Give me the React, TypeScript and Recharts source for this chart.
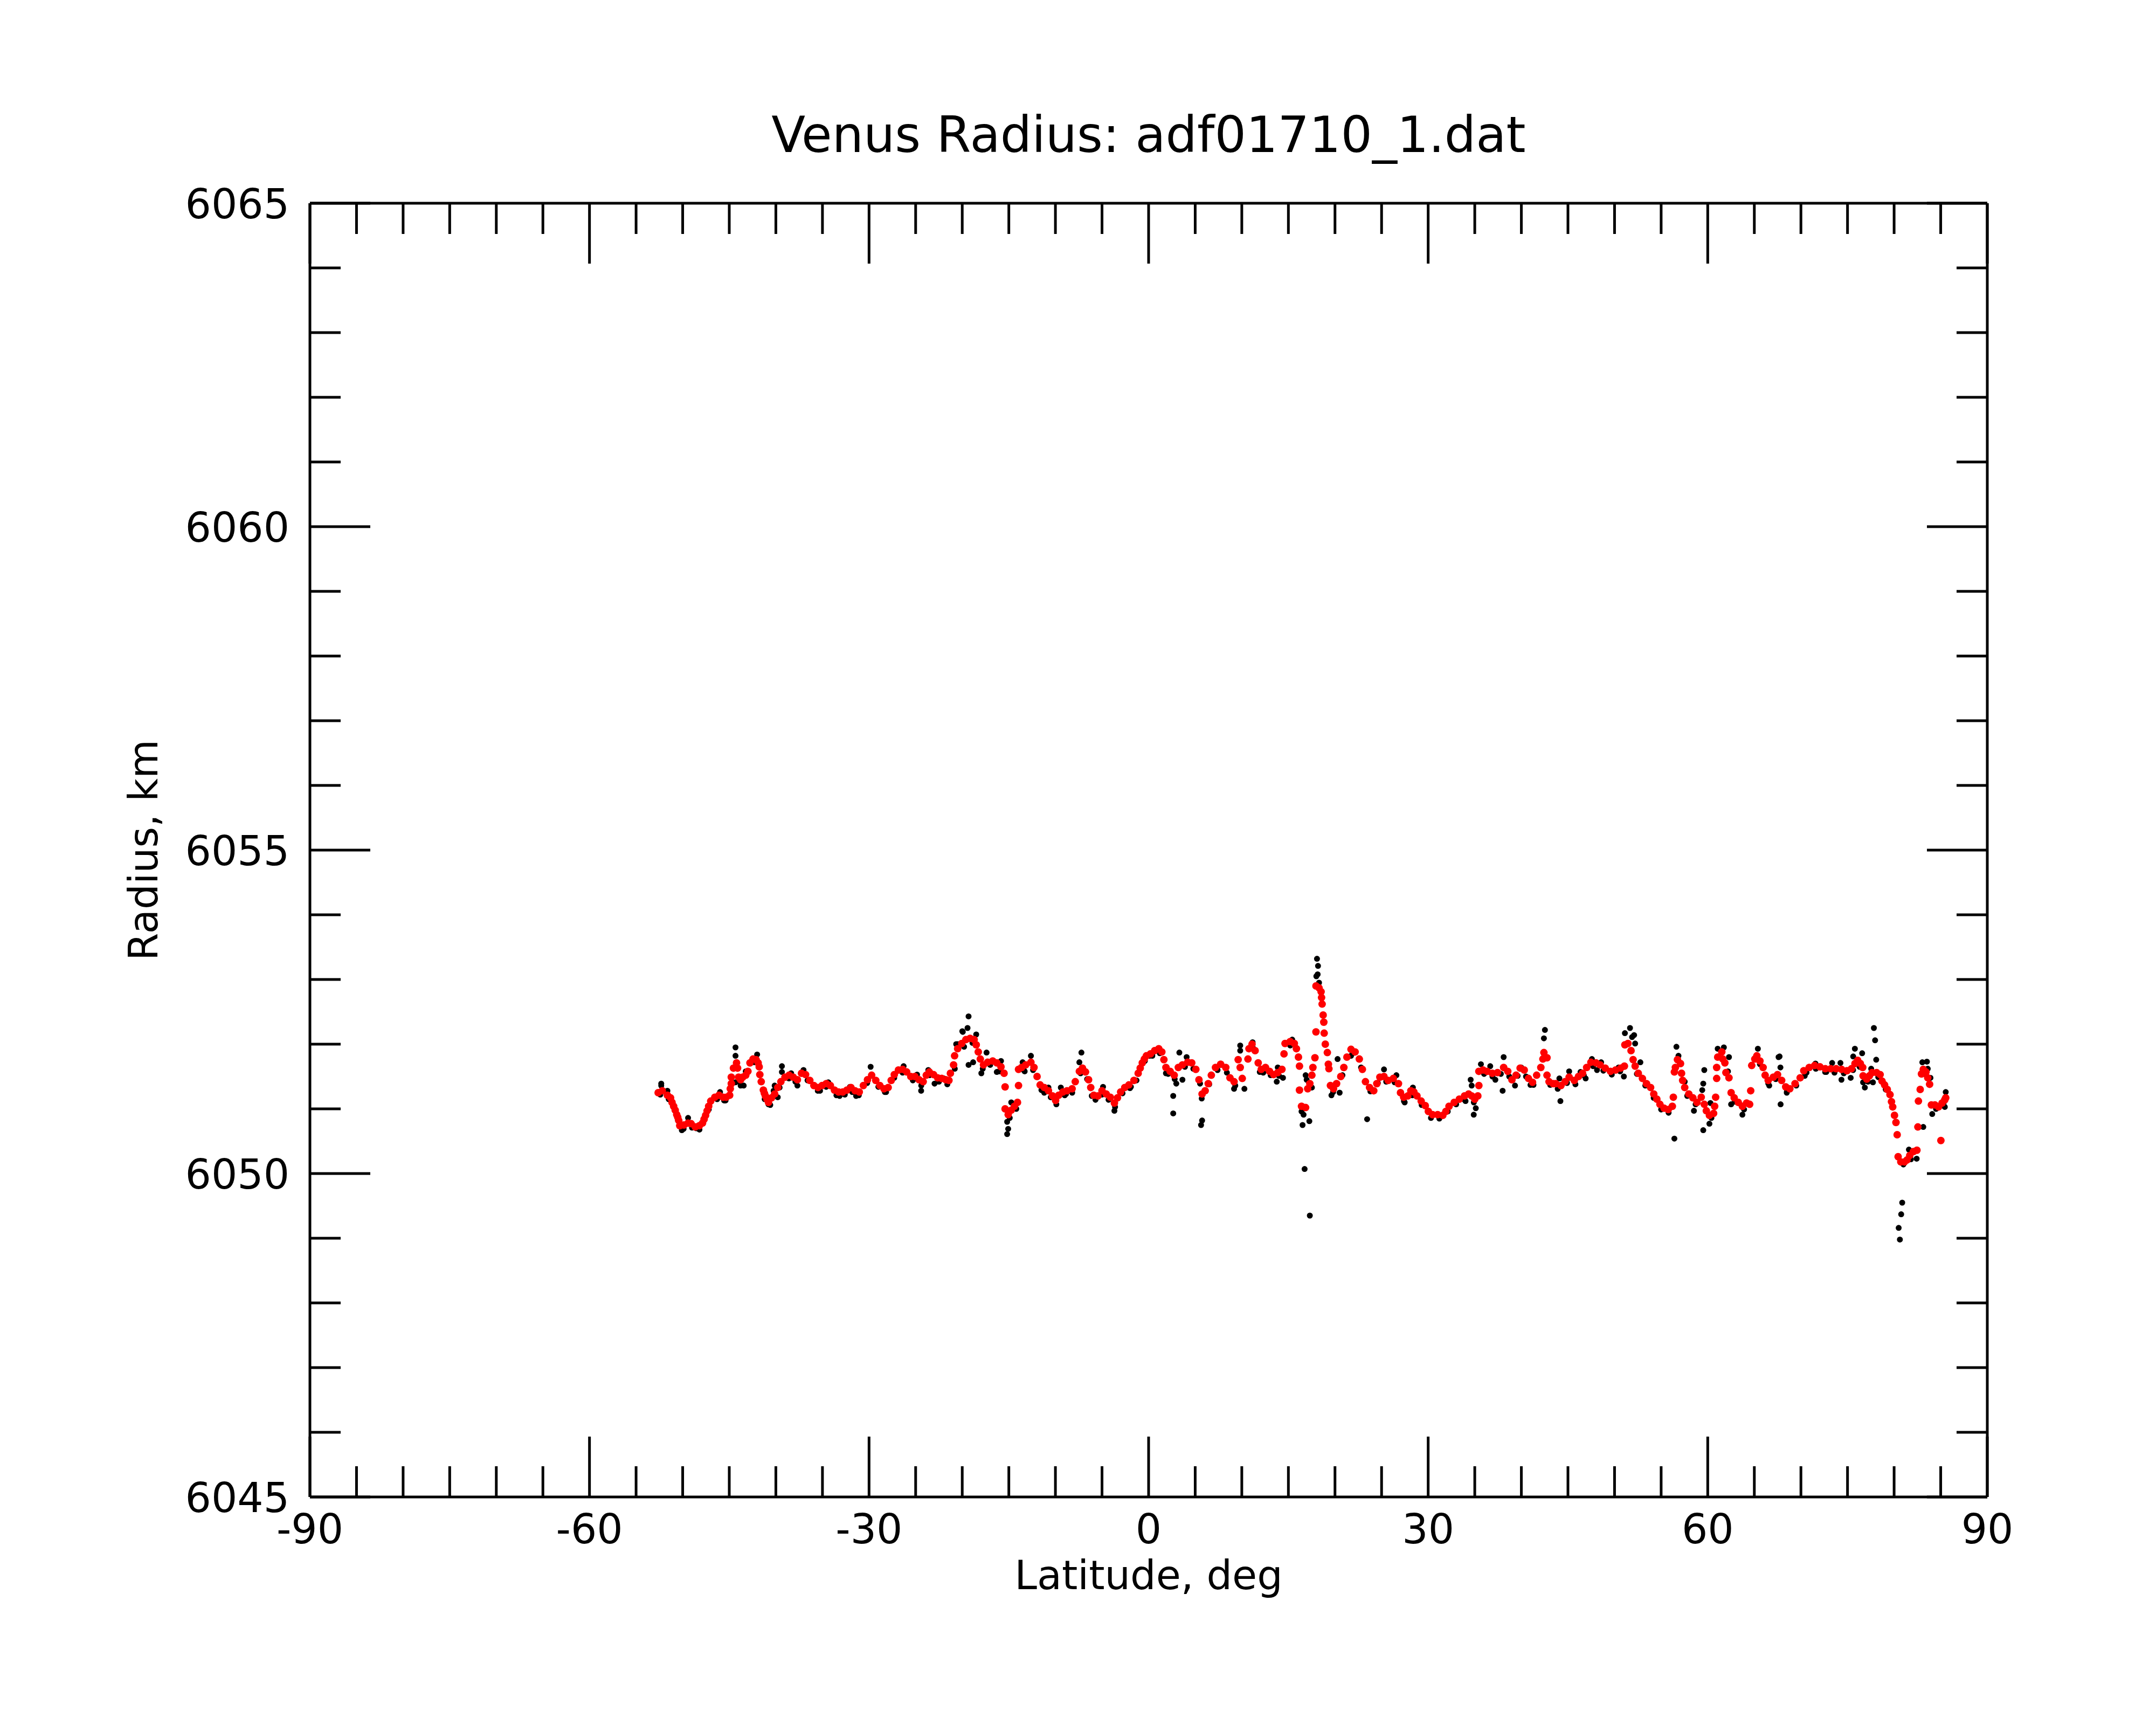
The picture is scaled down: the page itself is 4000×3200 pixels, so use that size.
import { ScatterChart, Scatter, XAxis, YAxis } from "recharts";

const FONT = "DejaVu Sans";
const MAJOR = 112;
const MINOR = 57;

const xTicks = [
  -90, -85, -80, -75, -70, -65, -60, -55, -50, -45, -40, -35, -30, -25, -20, -15, -10, -5,
  0, 5, 10, 15, 20, 25, 30, 35, 40, 45, 50, 55, 60, 65, 70, 75, 80, 85, 90,
];
const yTicks = [
  6045, 6046, 6047, 6048, 6049, 6050, 6051, 6052, 6053, 6054, 6055,
  6056, 6057, 6058, 6059, 6060, 6061, 6062, 6063, 6064, 6065,
];

// smoothed radius (red), [latitude, radius]
const redSouth: [number, number][] = [
  [-52.63, 6051.25], [-52.19, 6051.28], [-51.64, 6051.21], [-51.3, 6051.17], [-51.14, 6051.1],
  [-50.97, 6051.04], [-50.8, 6050.98], [-50.64, 6050.91], [-50.53, 6050.87], [-50.42, 6050.82],
  [-50.31, 6050.74], [-49.87, 6050.75], [-49.42, 6050.78], [-49.09, 6050.77], [-48.65, 6050.72],
  [-48.21, 6050.74], [-47.87, 6050.78], [-47.7, 6050.84], [-47.54, 6050.9], [-47.38, 6050.97],
  [-47.21, 6051.04], [-46.99, 6051.12], [-46.55, 6051.18], [-46.1, 6051.21], [-45.66, 6051.18],
  [-45.33, 6051.18], [-44.96, 6051.21], [-44.89, 6051.31], [-44.78, 6051.39], [-44.78, 6051.49],
  [-44.55, 6051.63], [-44.22, 6051.71], [-44.11, 6051.63], [-44.0, 6051.49], [-43.78, 6051.45],
  [-43.56, 6051.49], [-43.23, 6051.52], [-43.0, 6051.58], [-42.78, 6051.71], [-42.45, 6051.77],
  [-42.12, 6051.76], [-41.9, 6051.71], [-41.79, 6051.65], [-41.72, 6051.53], [-41.57, 6051.42],
  [-41.34, 6051.29], [-41.23, 6051.24], [-41.12, 6051.2], [-40.95, 6051.15], [-40.79, 6051.1],
  [-40.46, 6051.17], [-40.13, 6051.23], [-39.8, 6051.33], [-39.46, 6051.42], [-39.02, 6051.49],
  [-38.58, 6051.52], [-38.14, 6051.49], [-37.69, 6051.45], [-37.25, 6051.55], [-36.81, 6051.53],
  [-36.36, 6051.44], [-35.92, 6051.36], [-35.48, 6051.33], [-35.04, 6051.36], [-34.59, 6051.39],
  [-34.15, 6051.36], [-33.71, 6051.29], [-33.27, 6051.26], [-32.82, 6051.26], [-32.38, 6051.29],
  [-31.94, 6051.33], [-31.5, 6051.28], [-31.05, 6051.26], [-30.61, 6051.36], [-30.17, 6051.45],
  [-29.72, 6051.52], [-29.28, 6051.44], [-28.84, 6051.36], [-28.4, 6051.31], [-27.95, 6051.33],
  [-27.62, 6051.44], [-27.29, 6051.53], [-26.85, 6051.6], [-26.4, 6051.61], [-25.96, 6051.57],
  [-25.52, 6051.5], [-25.08, 6051.5], [-24.63, 6051.45], [-24.19, 6051.42], [-23.86, 6051.52],
  [-23.53, 6051.57], [-23.08, 6051.53], [-22.64, 6051.48], [-22.2, 6051.47], [-21.76, 6051.45],
  [-21.43, 6051.44],
];

const redMid: [number, number][] = [
  [-21.27, 6051.55], [-20.93, 6051.68], [-20.82, 6051.82], [-20.49, 6051.93], [-20.05, 6052.01],
  [-19.61, 6052.07], [-19.16, 6052.09], [-18.72, 6052.07], [-18.5, 6051.99], [-18.28, 6051.88],
  [-18.06, 6051.77], [-17.72, 6051.68], [-17.28, 6051.72], [-16.73, 6051.74], [-16.29, 6051.71],
  [-15.84, 6051.65], [-15.51, 6051.55], [-15.4, 6051.34], [-15.4, 6051.0], [-15.07, 6050.91],
  [-14.74, 6050.98], [-14.4, 6051.04], [-14.07, 6051.1], [-13.96, 6051.36], [-13.96, 6051.61],
  [-13.63, 6051.64], [-13.19, 6051.68], [-12.63, 6051.72], [-12.3, 6051.64], [-11.97, 6051.5],
  [-11.64, 6051.37], [-11.2, 6051.33], [-10.75, 6051.28], [-10.31, 6051.2], [-9.98, 6051.13],
  [-9.65, 6051.21], [-9.2, 6051.26], [-8.76, 6051.28], [-8.21, 6051.31], [-7.87, 6051.42],
  [-7.43, 6051.58], [-7.1, 6051.63], [-6.77, 6051.57], [-6.44, 6051.45], [-6.21, 6051.33],
  [-5.88, 6051.21], [-5.44, 6051.2], [-5.0, 6051.28], [-4.55, 6051.23], [-4.11, 6051.18],
  [-3.67, 6051.09], [-3.34, 6051.17], [-3.0, 6051.26], [-2.56, 6051.33], [-2.12, 6051.37],
  [-1.57, 6051.44], [-1.12, 6051.55], [-0.9, 6051.63], [-0.68, 6051.71], [-0.46, 6051.77],
  [-0.24, 6051.82], [0.2, 6051.85], [0.65, 6051.9], [1.09, 6051.93], [1.42, 6051.88],
  [1.64, 6051.76], [1.86, 6051.64], [2.31, 6051.58], [2.75, 6051.52], [3.19, 6051.64],
  [3.63, 6051.68], [4.19, 6051.72], [4.63, 6051.71], [5.07, 6051.61], [5.4, 6051.45],
  [5.74, 6051.23], [6.07, 6051.28], [6.4, 6051.39], [6.73, 6051.52], [7.18, 6051.64],
  [7.73, 6051.69], [8.28, 6051.64], [8.73, 6051.48], [9.17, 6051.42], [9.61, 6051.76],
  [9.83, 6051.64], [10.05, 6051.47],
];

const redNorth: [number, number][] = [
  [10.66, 6051.77], [10.77, 6051.93], [11.1, 6052.0], [11.43, 6051.9], [11.76, 6051.71],
  [12.09, 6051.61], [12.54, 6051.64], [12.98, 6051.58], [13.42, 6051.53], [13.86, 6051.56],
  [14.31, 6051.61], [14.53, 6051.85], [14.64, 6052.01], [15.19, 6052.04], [15.64, 6052.01],
  [15.86, 6051.93], [16.08, 6051.8], [16.19, 6051.66], [16.19, 6051.29], [16.41, 6051.04],
  [16.85, 6051.02], [17.07, 6051.31], [17.3, 6051.39], [17.52, 6051.52], [17.63, 6051.64],
  [17.85, 6051.79], [17.96, 6052.19], [17.96, 6052.9], [18.29, 6052.87], [18.51, 6052.81],
  [18.56, 6052.72], [18.62, 6052.62], [18.73, 6052.45], [18.8, 6052.34], [18.84, 6052.17],
  [18.96, 6052.0], [19.18, 6051.87], [19.29, 6051.69], [19.35, 6051.62], [19.51, 6051.36],
  [19.84, 6051.31], [20.17, 6051.39], [20.62, 6051.5], [20.95, 6051.64], [21.28, 6051.8],
  [21.72, 6051.92], [22.16, 6051.88], [22.61, 6051.77], [22.94, 6051.61], [23.27, 6051.42],
  [23.71, 6051.33], [24.16, 6051.28], [24.49, 6051.39], [24.82, 6051.49], [25.26, 6051.5],
  [25.71, 6051.44], [26.26, 6051.47], [26.81, 6051.39], [27.03, 6051.25], [27.37, 6051.18],
  [27.81, 6051.2], [28.14, 6051.28], [28.47, 6051.26], [28.8, 6051.2], [29.25, 6051.12],
  [29.69, 6051.05], [30.02, 6050.96], [30.47, 6050.91], [31.02, 6050.91], [31.57, 6050.9],
  [31.9, 6050.96], [32.24, 6051.04], [32.79, 6051.1], [33.34, 6051.15], [33.9, 6051.2],
  [34.34, 6051.23], [34.67, 6051.2], [35.0, 6051.15], [35.33, 6051.2], [35.44, 6051.36],
  [35.44, 6051.58], [35.89, 6051.6], [36.33, 6051.58], [36.88, 6051.55], [37.44, 6051.56],
  [38.1, 6051.64], [38.54, 6051.58], [38.99, 6051.45], [39.43, 6051.52], [39.87, 6051.63],
  [40.31, 6051.6], [40.76, 6051.47], [41.2, 6051.41], [41.64, 6051.52], [42.09, 6051.64],
  [42.31, 6051.77], [42.42, 6051.87], [42.75, 6051.79], [42.75, 6051.52], [42.97, 6051.42],
  [43.41, 6051.39],
];

const redFar: [number, number][] = [
  [43.69, 6051.39], [44.25, 6051.36], [44.69, 6051.42], [45.13, 6051.49], [45.68, 6051.44],
  [46.13, 6051.5], [46.57, 6051.55], [47.01, 6051.64], [47.46, 6051.72], [48.01, 6051.71],
  [48.45, 6051.68], [49.0, 6051.63], [49.56, 6051.58], [50.11, 6051.6], [50.66, 6051.63],
  [51.06, 6051.66], [51.11, 6051.99], [51.44, 6052.01], [51.77, 6051.9], [51.99, 6051.76],
  [52.21, 6051.66], [52.55, 6051.55], [52.99, 6051.47], [53.43, 6051.39], [53.87, 6051.33],
  [54.21, 6051.23], [54.54, 6051.15], [54.87, 6051.07], [55.31, 6051.01], [55.76, 6050.99],
  [56.2, 6051.04], [56.31, 6051.18], [56.42, 6051.57], [56.53, 6051.64], [56.75, 6051.76],
  [57.08, 6051.7], [57.19, 6051.55], [57.31, 6051.44], [57.53, 6051.33], [57.97, 6051.23],
  [58.41, 6051.17], [58.85, 6051.1], [59.3, 6051.18], [59.63, 6051.07], [59.85, 6050.97],
  [60.18, 6050.9], [60.63, 6050.93], [60.74, 6051.04], [60.85, 6051.18], [60.96, 6051.47],
  [60.96, 6051.64], [61.07, 6051.8], [61.51, 6051.88], [61.62, 6051.77], [61.84, 6051.71],
  [61.95, 6051.56], [62.28, 6051.48], [62.51, 6051.25], [62.84, 6051.17], [63.28, 6051.1],
  [63.72, 6051.04], [64.17, 6051.09], [64.5, 6051.07], [64.61, 6051.28], [64.72, 6051.67],
  [65.05, 6051.77], [65.27, 6051.82], [65.6, 6051.74], [65.94, 6051.64], [66.16, 6051.52],
  [66.49, 6051.44], [67.04, 6051.49], [67.49, 6051.53], [67.93, 6051.44], [68.37, 6051.34],
  [68.81, 6051.31], [69.37, 6051.39], [69.92, 6051.48], [70.31, 6051.59], [70.89, 6051.64],
  [71.47, 6051.67], [72.04, 6051.65], [72.62, 6051.62], [73.2, 6051.62], [73.78, 6051.62],
  [74.36, 6051.61], [74.94, 6051.59], [75.42, 6051.62], [75.8, 6051.7], [76.09, 6051.75],
  [76.38, 6051.7], [76.63, 6051.64], [76.67, 6051.51], [77.06, 6051.46], [77.35, 6051.51],
  [77.64, 6051.56], [78.12, 6051.56], [78.5, 6051.53], [78.7, 6051.43], [78.98, 6051.37],
  [79.27, 6051.3], [79.56, 6051.22], [79.72, 6051.11], [79.85, 6051.03], [80.04, 6050.9],
  [80.2, 6050.79], [80.33, 6050.6], [80.43, 6050.26], [80.72, 6050.18], [81.11, 6050.18],
  [81.39, 6050.21], [81.68, 6050.28], [82.07, 6050.34], [82.45, 6050.36], [82.55, 6050.72],
  [82.61, 6051.12], [82.8, 6051.3], [82.94, 6051.54], [83.13, 6051.61], [83.42, 6051.57],
  [83.61, 6051.48], [83.81, 6051.38], [84.0, 6051.06], [84.38, 6051.06], [84.77, 6051.03],
  [85.02, 6050.51], [85.15, 6051.09], [85.44, 6051.14], [85.54, 6051.17],
];

// raw radius (black), scattered points that show around the red track
const rawSouth: [number, number][] = [
  [-52.3, 6051.39], [-52.3, 6051.36], [-51.64, 6051.28], [-50.09, 6050.67], [-49.42, 6050.86],
  [-48.54, 6050.7], [-45.99, 6051.26], [-45.55, 6051.13], [-44.33, 6051.95], [-44.33, 6051.82],
  [-44.33, 6051.41], [-43.78, 6051.36], [-43.45, 6051.36], [-43.23, 6051.58], [-42.01, 6051.84],
  [-40.79, 6051.07], [-40.13, 6051.36], [-40.24, 6051.28], [-39.8, 6051.18], [-39.35, 6051.66],
  [-39.35, 6051.57], [-38.36, 6051.55], [-37.69, 6051.36], [-37.03, 6051.6], [-35.26, 6051.28],
  [-34.37, 6051.41], [-33.16, 6051.2], [-32.05, 6051.34], [-31.39, 6051.2], [-29.83, 6051.65],
  [-28.17, 6051.26], [-26.29, 6051.66], [-24.85, 6051.53], [-24.41, 6051.28], [-23.64, 6051.6],
  [-22.97, 6051.39], [-21.98, 6051.47], [-20.65, 6052.0], [-19.99, 6052.2], [-19.32, 6052.43],
  [-19.43, 6052.25], [-19.32, 6051.68], [-19.94, 6052.19], [-18.5, 6052.15], [-20.49, 6052.0],
  [-18.83, 6051.72], [-17.95, 6051.55], [-17.39, 6051.87], [-16.29, 6051.57], [-15.84, 6051.74],
  [-15.18, 6050.8], [-15.07, 6050.69], [-15.18, 6050.61], [-14.74, 6051.1], [-13.52, 6051.72],
  [-13.3, 6051.58], [-12.63, 6051.82], [-11.2, 6051.25], [-10.75, 6051.33], [-9.42, 6051.33],
  [-8.87, 6051.23], [-7.21, 6051.87], [-7.43, 6051.72], [-6.1, 6051.2], [-4.89, 6051.34],
  [-3.67, 6050.97], [-1.9, 6051.34], [0.09, 6051.82], [1.86, 6051.55], [2.64, 6051.2],
  [2.64, 6050.93], [2.97, 6051.39], [3.3, 6051.87], [3.63, 6051.45], [4.08, 6051.8],
  [5.52, 6051.39], [5.74, 6050.82], [5.63, 6050.75], [9.17, 6051.31], [9.83, 6051.98],
  [9.83, 6051.9], [10.28, 6051.31], [11.16, 6052.03], [11.93, 6051.57],
];

const rawNorth: [number, number][] = [
  [13.86, 6051.64], [14.42, 6051.48], [13.75, 6051.42], [15.41, 6052.07], [18.07, 6053.32],
  [18.18, 6053.21], [18.14, 6053.08], [18.0, 6053.05], [18.29, 6052.95], [16.85, 6051.52],
  [16.96, 6051.45], [17.52, 6051.33], [16.41, 6050.96], [16.63, 6050.91], [16.52, 6050.75],
  [17.25, 6050.81], [16.74, 6050.07], [17.3, 6049.35], [19.62, 6051.21], [20.5, 6051.25],
  [20.28, 6051.77], [21.72, 6051.82], [23.45, 6050.84], [25.26, 6051.61], [26.59, 6051.52],
  [27.48, 6051.1], [28.36, 6051.33], [34.01, 6051.12], [34.56, 6051.45], [34.67, 6051.36],
  [35.11, 6051.01], [34.89, 6050.91], [35.66, 6051.69], [36.66, 6051.66], [37.21, 6051.45],
  [38.1, 6051.8], [37.99, 6051.28], [39.32, 6051.36], [39.98, 6051.64], [40.98, 6051.37],
  [42.53, 6052.22], [42.42, 6052.09], [44.19, 6051.12], [44.08, 6051.47], [45.13, 6051.58],
  [46.35, 6051.57], [46.9, 6051.47], [47.57, 6051.77], [48.12, 6051.6], [48.56, 6051.72],
  [50.44, 6051.64], [51.0, 6051.5], [51.11, 6052.17], [51.66, 6052.25], [51.88, 6052.11],
  [52.1, 6052.14], [52.21, 6052.01], [52.77, 6051.72], [56.42, 6050.54], [56.64, 6051.96],
  [56.86, 6051.82], [57.53, 6051.42], [58.52, 6050.97], [59.52, 6050.67], [60.18, 6050.77],
  [59.63, 6051.6], [59.52, 6051.39], [59.41, 6051.29], [60.29, 6051.09], [61.07, 6051.93],
  [61.73, 6051.95], [62.28, 6051.8], [62.17, 6051.58], [62.51, 6051.07], [63.72, 6050.91],
  [65.38, 6051.93], [67.6, 6051.8], [67.82, 6051.07], [66.6, 6051.36], [68.48, 6051.25],
  [73.35, 6051.71], [74.24, 6051.71], [74.35, 6051.45], [75.34, 6051.48], [75.79, 6051.93],
  [67.71, 6051.81], [67.8, 6051.64], [70.41, 6051.51], [71.56, 6051.7], [72.72, 6051.57],
  [75.61, 6051.81], [76.57, 6051.86], [77.83, 6052.25], [77.96, 6052.06], [78.08, 6051.76],
  [77.54, 6051.62], [76.86, 6051.33], [76.67, 6051.41], [77.73, 6051.41], [80.87, 6049.55],
  [80.76, 6049.37], [80.49, 6049.16], [80.62, 6048.98], [81.59, 6050.37], [82.42, 6050.23],
  [83.13, 6050.72], [83.03, 6051.72], [83.52, 6051.73], [83.61, 6051.62], [83.9, 6051.48],
  [84.09, 6050.92], [85.54, 6051.26], [85.44, 6051.03],
];

// raw points sitting just under the red track
const rawEdge: [number, number][] = [
  [-52.4, 6051.22], [-51.5, 6051.15], [-50.5, 6050.82], [-49.9, 6050.69], [-49.0, 6050.71],
  [-48.2, 6050.68], [-47.2, 6050.99], [-46.3, 6051.15], [-45.4, 6051.13], [-43.9, 6051.42],
  [-42.3, 6051.72], [-41.2, 6051.15], [-40.6, 6051.06], [-39.6, 6051.33], [-38.6, 6051.47],
  [-37.9, 6051.42], [-36.6, 6051.44], [-35.5, 6051.28], [-34.6, 6051.34], [-33.5, 6051.21],
  [-32.6, 6051.22], [-31.8, 6051.26], [-31.1, 6051.21], [-30.2, 6051.4], [-29.0, 6051.34],
  [-28.3, 6051.26], [-27.3, 6051.48], [-26.4, 6051.56], [-25.3, 6051.44], [-24.4, 6051.36],
  [-23.5, 6051.52], [-22.5, 6051.42], [-21.6, 6051.38], [-20.8, 6051.62], [-19.8, 6051.96],
  [-18.9, 6052.02], [-17.8, 6051.62], [-17.0, 6051.68], [-16.0, 6051.58], [-14.9, 6050.86],
  [-14.2, 6051.0], [-13.4, 6051.6], [-12.4, 6051.6], [-11.5, 6051.29], [-10.5, 6051.18],
  [-9.9, 6051.07], [-9.0, 6051.21], [-8.2, 6051.25], [-7.3, 6051.55], [-6.6, 6051.46],
  [-5.7, 6051.14], [-5.0, 6051.22], [-4.3, 6051.14], [-3.6, 6051.03], [-2.8, 6051.24],
  [-2.0, 6051.32], [-1.3, 6051.44], [-0.4, 6051.74], [0.4, 6051.82], [1.2, 6051.86],
  [2.1, 6051.54], [2.8, 6051.46], [3.9, 6051.65], [4.8, 6051.62], [5.7, 6051.16],
  [6.5, 6051.38], [7.4, 6051.6], [8.4, 6051.56], [9.3, 6051.36], [11.2, 6051.94],
  [12.3, 6051.56], [13.1, 6051.52], [14.0, 6051.51], [15.2, 6051.98], [19.8, 6051.26],
  [20.8, 6051.52], [21.9, 6051.86], [22.8, 6051.64], [23.8, 6051.27], [24.6, 6051.4],
  [25.5, 6051.42], [26.4, 6051.41], [27.4, 6051.12], [28.3, 6051.21], [29.3, 6051.06],
  [30.3, 6050.86], [31.2, 6050.85], [32.1, 6050.96], [33.0, 6051.07], [33.9, 6051.14],
  [34.9, 6051.1], [36.0, 6051.54], [36.9, 6051.5], [37.8, 6051.54], [38.7, 6051.5],
  [39.6, 6051.51], [40.5, 6051.5], [41.3, 6051.37], [43.1, 6051.37], [43.9, 6051.31],
  [44.9, 6051.4], [45.8, 6051.38], [46.7, 6051.52], [47.7, 6051.66], [48.8, 6051.59],
  [49.7, 6051.53], [50.6, 6051.58], [52.4, 6051.54], [53.3, 6051.36], [54.2, 6051.17],
  [55.0, 6050.99], [55.8, 6050.94], [57.8, 6051.2], [58.7, 6051.07], [60.4, 6050.86],
  [62.9, 6051.11], [63.9, 6050.99], [65.6, 6051.69], [66.5, 6051.39], [67.3, 6051.46],
  [68.5, 6051.27], [69.5, 6051.36], [70.6, 6051.56], [71.6, 6051.62], [72.6, 6051.57],
  [73.6, 6051.56], [74.6, 6051.55], [75.6, 6051.6], [76.3, 6051.65], [77.2, 6051.42],
  [78.3, 6051.49], [79.1, 6051.3], [81.0, 6050.14], [81.8, 6050.22], [83.3, 6051.54],
  [84.5, 6051.0], [85.3, 6051.08],
];

const toRows = (pts: [number, number][]) => pts.map(([lat, rad]) => ({ lat, rad }));
const redData = toRows([...redSouth, ...redMid, ...redNorth, ...redFar]);
const rawData = toRows([...rawSouth, ...rawNorth, ...rawEdge]);

const isMajorX = (v: number) => v % 30 === 0;
const isMajorY = (v: number) => (v - 6045) % 5 === 0;

function BottomTick({ x, y, payload }: any) {
  const v = payload.value;
  const major = isMajorX(v);
  return (
    <g>
      <line x1={x} y1={y} x2={x} y2={y - (major ? MAJOR : MINOR)} stroke="#000" strokeWidth={5} />
      {major && (
        <text x={x} y={y + 86} textAnchor="middle" fontSize={76} fontFamily={FONT} fill="#000">
          {v}
        </text>
      )}
    </g>
  );
}

function TopTick({ x, y, payload }: any) {
  const len = isMajorX(payload.value) ? MAJOR : MINOR;
  return <line x1={x} y1={y} x2={x} y2={y + len} stroke="#000" strokeWidth={5} />;
}

function LeftTick({ x, y, payload }: any) {
  const v = payload.value;
  const major = isMajorY(v);
  return (
    <g>
      <line x1={x} y1={y} x2={x + (major ? MAJOR : MINOR)} y2={y} stroke="#000" strokeWidth={5} />
      {major && (
        <text x={x - 38} y={y + 28} textAnchor="end" fontSize={76} fontFamily={FONT} fill="#000">
          {v}
        </text>
      )}
    </g>
  );
}

function RightTick({ x, y, payload }: any) {
  const len = isMajorY(payload.value) ? MAJOR : MINOR;
  return <line x1={x} y1={y} x2={x - len} y2={y} stroke="#000" strokeWidth={5} />;
}

const dot = (color: string, r: number) => (props: any) =>
  <circle cx={props.cx} cy={props.cy} r={r} fill={color} />;

const axisLine = { stroke: "#000", strokeWidth: 5 };

export default function App() {
  return (
    <div style={{ position: "absolute", left: 0, top: 0, width: 4000, height: 3200, background: "#fff" }}>
      <ScatterChart width={4000} height={3200} margin={{ top: 277, right: 213, bottom: 323, left: 475 }}>
        <XAxis
          xAxisId="b" type="number" dataKey="lat" orientation="bottom" height={100}
          domain={[-90, 90]} allowDataOverflow ticks={xTicks} interval={0}
          tickSize={0} tickMargin={0} tickLine={false} axisLine={axisLine} tick={BottomTick}
        />
        <XAxis
          xAxisId="t" type="number" dataKey="lat" orientation="top" height={100}
          domain={[-90, 90]} allowDataOverflow ticks={xTicks} interval={0}
          tickSize={0} tickMargin={0} tickLine={false} axisLine={axisLine} tick={TopTick}
        />
        <YAxis
          yAxisId="l" type="number" dataKey="rad" orientation="left" width={100}
          domain={[6045, 6065]} allowDataOverflow ticks={yTicks} interval={0}
          tickSize={0} tickMargin={0} tickLine={false} axisLine={axisLine} tick={LeftTick}
        />
        <YAxis
          yAxisId="r" type="number" dataKey="rad" orientation="right" width={100}
          domain={[6045, 6065]} allowDataOverflow ticks={yTicks} interval={0}
          tickSize={0} tickMargin={0} tickLine={false} axisLine={axisLine} tick={RightTick}
        />
        <Scatter xAxisId="b" yAxisId="l" data={rawData} shape={dot("#000000", 5.5)} isAnimationActive={false} />
        <Scatter xAxisId="b" yAxisId="l" data={redData} shape={dot("#ff0000", 7)} isAnimationActive={false} />
      </ScatterChart>
      <svg width={4000} height={3200} style={{ position: "absolute", left: 0, top: 0, pointerEvents: "none" }}>
        <text x={2131} y={282} textAnchor="middle" fontSize={92} fontFamily={FONT} fill="#000">
          Venus Radius: adf01710_1.dat
        </text>
        <text x={2131} y={2948} textAnchor="middle" fontSize={75} fontFamily={FONT} fill="#000">
          Latitude, deg
        </text>
        <text
          x={292} y={1577} textAnchor="middle" fontSize={74} fontFamily={FONT} fill="#000"
          transform="rotate(-90 292 1577)"
        >
          Radius, km
        </text>
      </svg>
    </div>
  );
}
